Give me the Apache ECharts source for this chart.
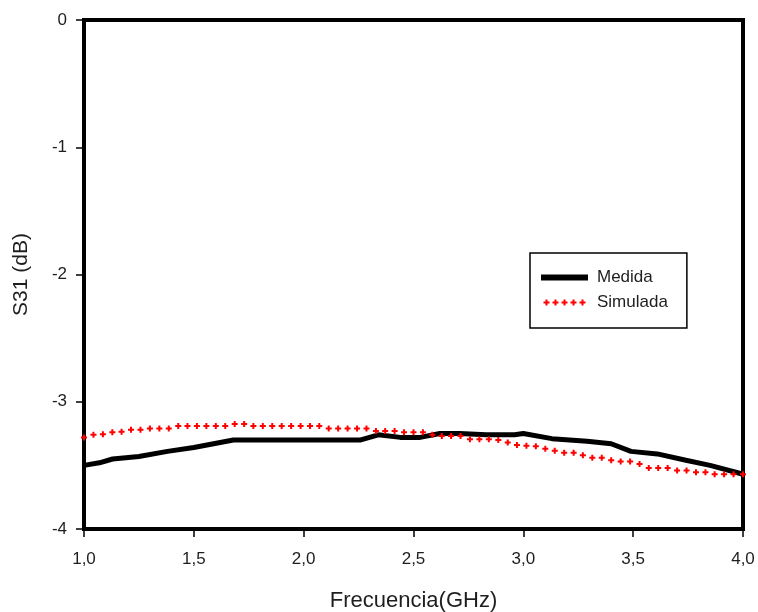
<!DOCTYPE html>
<html>
<head>
<meta charset="utf-8">
<script src="https://cdn.jsdelivr.net/npm/echarts@6/dist/echarts.min.js"></script>
<style>
  html, body { margin: 0; padding: 0; background: #fff; }
  #chart { width: 758px; height: 612px; }
</style>
</head>
<body>
<div id="chart"></div>
<script>
// Measured S31 (black line): frequency in GHz, level in dB
var medFreq = [1.00, 1.07, 1.13, 1.25, 1.38, 1.50, 1.59, 1.68, 2.26, 2.34, 2.44, 2.53, 2.62, 2.71, 2.83, 2.96, 3.00, 3.13, 3.29, 3.40, 3.49, 3.61, 3.74, 3.85, 3.98, 4.00];
var medS31  = [-3.50, -3.48, -3.45, -3.43, -3.39, -3.36, -3.33, -3.30, -3.30, -3.26, -3.28, -3.28, -3.25, -3.25, -3.26, -3.26, -3.25, -3.29, -3.31, -3.33, -3.39, -3.41, -3.46, -3.50, -3.56, -3.57];

// Simulated S31 (red crosses)
var simFreq = [1.000, 1.043, 1.086, 1.129, 1.171, 1.214, 1.257, 1.300, 1.343, 1.386,
               1.429, 1.471, 1.514, 1.557, 1.600, 1.643, 1.686, 1.729, 1.771, 1.814,
               1.857, 1.900, 1.943, 1.986, 2.029, 2.071, 2.114, 2.157, 2.200, 2.243,
               2.286, 2.329, 2.371, 2.414, 2.457, 2.500, 2.543, 2.586, 2.629, 2.671,
               2.714, 2.757, 2.800, 2.843, 2.886, 2.929, 2.971, 3.014, 3.057, 3.100,
               3.143, 3.186, 3.229, 3.271, 3.314, 3.357, 3.400, 3.443, 3.486, 3.529,
               3.571, 3.614, 3.657, 3.700, 3.743, 3.786, 3.829, 3.871, 3.914, 3.957, 4.000];
var simS31  = [-3.28, -3.26, -3.255, -3.24, -3.235, -3.22, -3.22, -3.21, -3.21, -3.21,
               -3.19, -3.19, -3.19, -3.19, -3.19, -3.19, -3.175, -3.175, -3.19, -3.19,
               -3.19, -3.19, -3.19, -3.19, -3.19, -3.19, -3.21, -3.21, -3.21, -3.21,
               -3.21, -3.23, -3.23, -3.23, -3.24, -3.24, -3.24, -3.26, -3.27, -3.27,
               -3.27, -3.295, -3.295, -3.295, -3.30, -3.32, -3.34, -3.345, -3.35, -3.37,
               -3.385, -3.40, -3.40, -3.42, -3.44, -3.44, -3.46, -3.47, -3.47, -3.49,
               -3.52, -3.52, -3.52, -3.54, -3.54, -3.555, -3.555, -3.57, -3.57, -3.57, -3.57];

var seriesNames = ['Medida', 'Simulada'];
var xTitle = 'Frecuencia(GHz)';
var yTitle = 'S31 (dB)';

function pairs(xs, ys) {
  return xs.map(function (x, i) { return [x, ys[i]]; });
}

var FONT = 'Liberation Sans, Arial, sans-serif';
var TEXT = '#1e1e1e';

var plusPath = 'path://M2,0H4V2H6V4H4V6H2V4H0V2H2Z';
// five small crosses in a row for the legend key
var plusRow = 'path://M2,0H4V2H6V4H4V6H2V4H0V2H2Z' +
  'M11,0H13V2H15V4H13V6H11V4H9V2H11Z' +
  'M20,0H22V2H24V4H22V6H20V4H18V2H20Z' +
  'M29,0H31V2H33V4H31V6H29V4H27V2H29Z' +
  'M38,0H40V2H42V4H40V6H38V4H36V2H38Z';

var chart = echarts.init(document.getElementById('chart'), null, { renderer: 'canvas' });
chart.setOption({
  animation: false,
  backgroundColor: '#ffffff',
  grid: {
    left: 84, right: 15, top: 20, bottom: 83,
    outerBoundsMode: 'none',
    containLabel: false,
    show: true, borderColor: '#000', borderWidth: 4, backgroundColor: 'transparent'
  },
  legend: {
    left: 530, top: 253,
    orient: 'vertical',
    padding: [16, 19, 17, 11],
    itemGap: 8,
    itemWidth: 47, itemHeight: 6,
    borderColor: '#000', borderWidth: 1.5,
    backgroundColor: '#fff',
    textStyle: { fontFamily: FONT, fontSize: 17, color: TEXT, padding: [0, 0, 0, 4] },
    data: [
      { name: seriesNames[0], icon: 'rect', itemStyle: { color: '#000' } },
      { name: seriesNames[1], icon: plusRow, itemStyle: { color: '#ff0000' } }
    ]
  },
  xAxis: {
    type: 'value', min: 1, max: 4, interval: 0.5,
    name: xTitle, nameLocation: 'middle', nameGap: 61,
    nameTextStyle: { fontFamily: FONT, fontSize: 22, color: TEXT },
    axisLine: { show: true, onZero: false, lineStyle: { color: '#000', width: 4 } },
    axisTick: { show: true, length: 8, lineStyle: { color: '#000', width: 1.5 } },
    axisLabel: {
      margin: 22, fontFamily: FONT, fontSize: 17, color: TEXT,
      formatter: function (v) { return v.toFixed(1).replace('.', ','); }
    },
    splitLine: { show: false }
  },
  yAxis: {
    type: 'value', min: -4, max: 0, interval: 1,
    name: yTitle, nameLocation: 'middle', nameGap: 52, nameRotate: 90,
    nameTextStyle: { fontFamily: FONT, fontSize: 21, color: TEXT },
    axisLine: { show: true, onZero: false, lineStyle: { color: '#000', width: 4 } },
    axisTick: { show: true, length: 8, lineStyle: { color: '#000', width: 1.5 } },
    axisLabel: { margin: 17, fontFamily: FONT, fontSize: 17, color: TEXT },
    splitLine: { show: false }
  },
  series: [
    {
      name: seriesNames[0],
      type: 'line',
      data: pairs(medFreq, medS31),
      showSymbol: false,
      symbol: 'none',
      lineStyle: { color: '#000', width: 5 },
      itemStyle: { color: '#000' },
      z: 2
    },
    {
      name: seriesNames[1],
      type: 'line',
      data: pairs(simFreq, simS31),
      symbol: plusPath,
      symbolSize: 6,
      showSymbol: true,
      lineStyle: { width: 0, opacity: 0 },
      itemStyle: { color: '#ff0000' },
      z: 3
    }
  ]
});
</script>
</body>
</html>
